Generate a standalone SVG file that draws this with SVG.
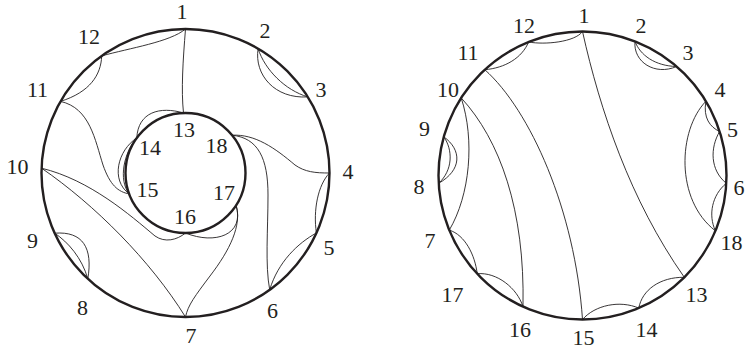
<svg xmlns="http://www.w3.org/2000/svg" width="745" height="349" viewBox="0 0 745 349">
<style>
.b{fill:none;stroke:#231f20;stroke-width:2.4}
.c{fill:none;stroke:#231f20;stroke-width:0.9}
.t text{font-family:'Liberation Serif',serif;font-size:22px;fill:#231f20;text-anchor:middle}
</style>
<rect width="745" height="349" fill="#fff"/>
<g id="boundaries">
<circle class="b" cx="185.5" cy="173" r="144"/>
<circle class="b" cx="185.5" cy="173" r="60"/>
<circle class="b" cx="582.5" cy="175.5" r="144"/>
</g>
<g id="connectors">
<path class="c" d="M185.5,29 C170,42 130,48 101.7,55.9"/>
<path class="c" d="M101.7,55.9 C101,75 90,92 60.5,101.4"/>
<path class="c" d="M185.5,29 C183,60 181,90 183.5,113"/>
<path class="c" d="M258.1,48.7 C254,75 275,99 307.8,96.9"/>
<path class="c" d="M258.1,48.7 C265,70 285,90 307.8,96.9"/>
<path class="c" d="M329.5,173 C318,185 313,210 316.4,233"/>
<path class="c" d="M316.4,233 C298,243 278,262 269.7,289.8"/>
<path class="c" d="M232.1,135.2 C258,138 268,158 268,195 C268,230 265,265 269.7,289.8"/>
<path class="c" d="M232.1,135.2 C255,134 275,148 295,165 C305,172 315,173 329.5,173"/>
<path class="c" d="M60.5,101.4 C90,108 95,140 103,165 C110,185 118,192 129.3,193.9"/>
<path class="c" d="M183.5,113 C160,106 138,112 136.8,138"/>
<path class="c" d="M136.8,138 C118,150 110,180 129.3,193.9"/>
<path class="c" d="M136.8,138 C124,152 118,180 129.3,193.9"/>
<path class="c" d="M185.5,233 C215,245 245,235 236.1,205.3"/>
<path class="c" d="M41.6,168.2 C90,180 130,215 155,236 C165,243 177,240 185.5,233"/>
<path class="c" d="M41.6,168.2 C95,205 150,260 185.5,317"/>
<path class="c" d="M236.1,205.3 C242,225 230,250 210,276 C195,296 188,305 185.5,317"/>
<path class="c" d="M54.7,233.2 C83,231 93,248 87.8,278.8"/>
<path class="c" d="M54.7,233.2 C68,242 82,258 87.8,278.8"/>
<path class="c" d="M582.5,31.5 C575,42 545,45 528.6,42"/>
<path class="c" d="M528.6,42 C522,58 505,68 484.8,69.7"/>
<path class="c" d="M635,41.4 C633,62 655,76 676.6,66.5"/>
<path class="c" d="M635,41.4 C640,55 655,66 676.6,66.5"/>
<path class="c" d="M582.5,31.5 C600,110 630,200 684.3,277.3"/>
<path class="c" d="M484.8,69.7 C530,110 575,210 582.5,319.5"/>
<path class="c" d="M461.2,97.9 C500,140 525,210 523,306.6"/>
<path class="c" d="M461.2,97.9 C475,140 470,195 449.3,230.1"/>
<path class="c" d="M443.8,136.8 C462,150 462,170 438.7,183.3"/>
<path class="c" d="M443.8,136.8 C453,150 453,170 438.7,183.3"/>
<path class="c" d="M449.3,230.1 C465,235 475,255 477.2,273.7"/>
<path class="c" d="M477.2,273.7 C497,272 517,288 523,306.6"/>
<path class="c" d="M582.5,319.5 C595,305 620,300 638.8,308.1"/>
<path class="c" d="M638.8,308.1 C642,290 660,277 684.3,277.3"/>
<path class="c" d="M705.9,101.3 C678,130 675,200 715.4,230.8"/>
<path class="c" d="M705.9,101.3 C703,118 710,127 719.6,131.5"/>
<path class="c" d="M719.6,131.5 C710,148 710,170 726.3,183.3"/>
<path class="c" d="M726.3,183.3 C712,195 708,215 715.4,230.8"/>
</g>
<g id="left-nodes" class="t" font-family="Liberation Serif, serif">
<g id="L1"><text x="182" y="19">1</text></g>
<g id="L2"><text x="265" y="38">2</text></g>
<g id="L3"><text x="321" y="97">3</text></g>
<g id="L4"><text x="348" y="179">4</text></g>
<g id="L5"><text x="329" y="255">5</text></g>
<g id="L6"><text x="272.5" y="318">6</text></g>
<g id="L7"><text x="191" y="343">7</text></g>
<g id="L8"><text x="82.5" y="315">8</text></g>
<g id="L9"><text x="32.5" y="248">9</text></g>
<g id="L10"><text x="17.5" y="174">10</text></g>
<g id="L11"><text x="37.5" y="97">11</text></g>
<g id="L12"><text x="89" y="44">12</text></g>
<g id="L13"><text x="184" y="137">13</text></g>
<g id="L14"><text x="150" y="155">14</text></g>
<g id="L15"><text x="147.5" y="197">15</text></g>
<g id="L16"><text x="185" y="224">16</text></g>
<g id="L17"><text x="224" y="200">17</text></g>
<g id="L18"><text x="216.5" y="153">18</text></g>
</g>
<g id="right-nodes" class="t" font-family="Liberation Serif, serif">
<g id="R1"><text x="584" y="23">1</text></g>
<g id="R2"><text x="641" y="33">2</text></g>
<g id="R3"><text x="688" y="60">3</text></g>
<g id="R4"><text x="720" y="97">4</text></g>
<g id="R5"><text x="732.5" y="137">5</text></g>
<g id="R6"><text x="739" y="195">6</text></g>
<g id="R7"><text x="430" y="248">7</text></g>
<g id="R8"><text x="419" y="194">8</text></g>
<g id="R9"><text x="424.5" y="136">9</text></g>
<g id="R10"><text x="448" y="97">10</text></g>
<g id="R11"><text x="468" y="60">11</text></g>
<g id="R12"><text x="524" y="33">12</text></g>
<g id="R13"><text x="696.5" y="302">13</text></g>
<g id="R14"><text x="646.5" y="337">14</text></g>
<g id="R15"><text x="583.5" y="345">15</text></g>
<g id="R16"><text x="520" y="337">16</text></g>
<g id="R17"><text x="452.5" y="302">17</text></g>
<g id="R18"><text x="731.5" y="250">18</text></g>
</g>
</svg>
